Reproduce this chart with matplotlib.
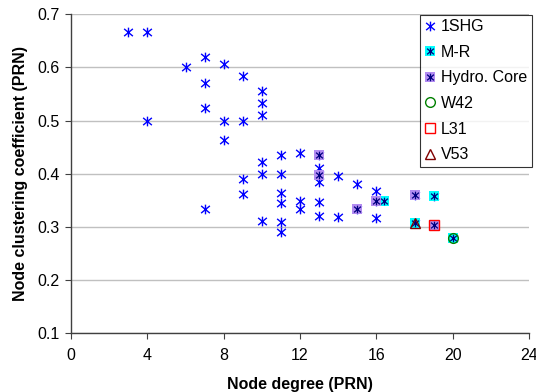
import matplotlib
matplotlib.use("Agg")
import matplotlib.pyplot as plt
from matplotlib.path import Path
from matplotlib.lines import Line2D

plt.rcParams['font.family'] = ['Liberation Sans', 'DejaVu Sans']

# --- data ---
shg_x = [3, 4, 4, 6, 7, 7, 7, 7, 8, 8, 8, 9, 9, 9, 9, 10, 10, 10, 10, 10, 10,
         11, 11, 11, 11, 11, 11, 12, 12, 12, 13, 13, 13, 13, 13, 13, 14, 14,
         15, 15, 16, 16, 16, 18, 18, 19, 19, 20]
shg_y = [0.667, 0.667, 0.5, 0.6, 0.619, 0.571, 0.524, 0.333, 0.607, 0.5, 0.464,
         0.583, 0.5, 0.389, 0.361, 0.556, 0.533, 0.511, 0.422, 0.4, 0.311,
         0.436, 0.4, 0.364, 0.345, 0.309, 0.291, 0.439, 0.348, 0.333,
         0.436, 0.410, 0.397, 0.385, 0.346, 0.321, 0.396, 0.319,
         0.381, 0.333, 0.367, 0.348, 0.317, 0.359, 0.307, 0.357, 0.304, 0.279]
mr_x = [16.4, 18, 19, 20]
mr_y = [0.348, 0.307, 0.357, 0.279]
hc_x = [13, 13, 15, 16, 18, 19]
hc_y = [0.436, 0.397, 0.333, 0.348, 0.359, 0.304]
w42_x, w42_y = [20], [0.279]
l31_x, l31_y = [19], [0.304]
v53_x, v53_y = [18], [0.307]
x_ticks = [0, 4, 8, 12, 16, 20, 24]
y_ticks = [0.1, 0.2, 0.3, 0.4, 0.5, 0.6, 0.7]

# asterisk marker (Excel style: X plus vertical bar)
verts = [(0, -1), (0, 1), (-0.9, -0.75), (0.9, 0.75), (-0.9, 0.75), (0.9, -0.75)]
codes = [Path.MOVETO, Path.LINETO] * 3
ast = Path(verts, codes)

FS = 11.5

fig = plt.figure(figsize=(5.36, 3.92), dpi=100)
ax = fig.add_axes([71/536, 1-333/392, (529-71)/536, (333-14.3)/392])

blue = '#0000FF'
navy = '#000080'
cyan = '#00FFFF'
purple = '#B38CF2'

ax.plot(shg_x, shg_y, linestyle='none', marker=ast, ms=7, mec=blue, mfc='none', mew=1.0, zorder=3)
ax.plot(mr_x, mr_y, linestyle='none', marker='s', ms=6.5, mfc=cyan, mec=cyan, mew=0, zorder=4)
ax.plot(mr_x, mr_y, linestyle='none', marker=ast, ms=5.5, mec=navy, mfc='none', mew=0.9, zorder=4)
ax.plot(hc_x, hc_y, linestyle='none', marker='s', ms=6.5, mfc=purple, mec=purple, mew=0, zorder=5)
ax.plot(hc_x, hc_y, linestyle='none', marker=ast, ms=5.5, mec=navy, mfc='none', mew=0.9, zorder=5)
ax.plot(w42_x, w42_y, linestyle='none', marker='o', ms=7, mfc='none', mec='#008000', mew=1.0, zorder=6)
ax.plot(l31_x, l31_y, linestyle='none', marker='s', ms=7, mfc='none', mec='#FF0000', mew=1.0, zorder=6)
ax.plot(v53_x, v53_y, linestyle='none', marker='^', ms=7.5, mfc='none', mec='#800000', mew=1.0, zorder=6)

ax.set_xlim(0, 24)
ax.set_ylim(0.1, 0.7)
ax.set_xticks(x_ticks)
ax.set_yticks(y_ticks)
ax.set_yticklabels([f'{v:.1f}' for v in y_ticks])
ax.tick_params(axis='both', labelsize=FS, direction='out', length=4, width=0.8, color='#404040')
ax.tick_params(axis='x', pad=7)
ax.tick_params(axis='y', pad=4)
ax.grid(axis='y', color='#C0C0C0', linewidth=1.0)
ax.set_axisbelow(True)
for s in ['top', 'right']:
    ax.spines[s].set_visible(False)
for s in ['left', 'bottom']:
    ax.spines[s].set_color('#404040')
    ax.spines[s].set_linewidth(1.0)
ax.set_xlabel('Node degree (PRN)', fontsize=FS, fontweight='bold', labelpad=10)
ax.set_ylabel('Node clustering coefficient (PRN)', fontsize=FS, fontweight='bold', labelpad=7)

# legend
h_shg = Line2D([], [], linestyle='none', marker=ast, ms=7, mec=blue, mfc='none', mew=1.0)
h_mr = (Line2D([], [], linestyle='none', marker='s', ms=6.5, mfc=cyan, mec=cyan, mew=0),
        Line2D([], [], linestyle='none', marker=ast, ms=5.5, mec=navy, mfc='none', mew=0.9))
h_hc = (Line2D([], [], linestyle='none', marker='s', ms=6.5, mfc=purple, mec=purple, mew=0),
        Line2D([], [], linestyle='none', marker=ast, ms=5.5, mec=navy, mfc='none', mew=0.9))
h_w = Line2D([], [], linestyle='none', marker='o', ms=7, mfc='none', mec='#008000', mew=1.0)
h_l = Line2D([], [], linestyle='none', marker='s', ms=7, mfc='none', mec='#FF0000', mew=1.0)
h_v = Line2D([], [], linestyle='none', marker='^', ms=7.5, mfc='none', mec='#800000', mew=1.0)
leg = ax.legend([h_shg, h_mr, h_hc, h_w, h_l, h_v],
                ['1SHG', 'M-R', 'Hydro. Core', 'W42', 'L31', 'V53'],
                loc='upper left', bbox_to_anchor=(420/536, 1-14.6/392),
                bbox_transform=fig.transFigure, fontsize=FS, frameon=True,
                fancybox=False, shadow=False, borderpad=0.3, labelspacing=0.66,
                handlelength=0.7, handletextpad=0.3, borderaxespad=0)
leg.get_frame().set_edgecolor('black')
leg.get_frame().set_linewidth(0.8)
leg.set_zorder(10)

fig.savefig('out.png', dpi=100)
